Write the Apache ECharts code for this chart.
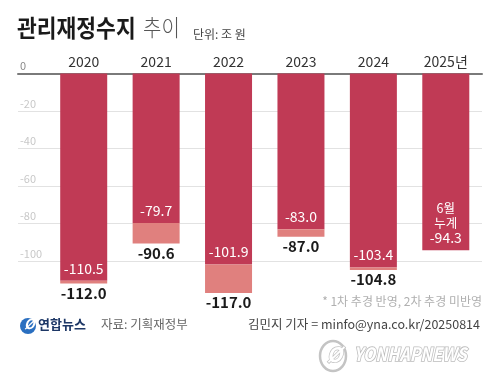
<!DOCTYPE html>
<html>
<head>
<meta charset="utf-8">
<script src="https://cdn.jsdelivr.net/npm/echarts@6/dist/echarts.min.js"></script>
<style>html,body{margin:0;padding:0;background:#fff}#c{width:500px;height:388px}</style>
</head>
<body>
<div id="c"></div>
<script>
const years = ['2020', '2021', '2022', '2023', '2024', '2025년'];
const primaryValues = [-110.5, -79.7, -101.9, -83.0, -103.4, -94.3];
const totalValues = [-112.0, -90.6, -117.0, -87.0, -104.8, null];
const yTicks = [0, -20, -40, -60, -80, -100];

const FONT = '"Noto Sans CJK KR", "Noto Sans", sans-serif';
const DARK = '#c03a55';
const LIGHT = '#e0807e';

const extraValues = totalValues.map((t, i) => t == null ? null : +(t - primaryValues[i]).toFixed(1));

const chart = echarts.init(document.getElementById('c'), null, {renderer: 'canvas'});
const gridPos = {top: 73.5, bottom: 89.5};

chart.setOption({
  animation: false,
  textStyle: {fontFamily: FONT},
  grid: [
    {left: 18, right: 18, top: gridPos.top, bottom: gridPos.bottom},
    {left: 47.5, right: 18, top: gridPos.top, bottom: gridPos.bottom}
  ],
  xAxis: [
    {gridIndex: 0, type: 'value', position: 'top', min: 0, max: 1, show: true,
     axisLine: {show: true, onZero: false, lineStyle: {color: '#7a7a7a', width: 2}},
     axisTick: {show: false}, axisLabel: {show: false}, splitLine: {show: false}},
    {gridIndex: 1, type: 'category', position: 'top', data: years,
     axisLine: {show: false}, axisTick: {show: false},
     axisLabel: {color: '#333', fontSize: 14, margin: 5, fontFamily: FONT}}
  ],
  yAxis: [
    {gridIndex: 0, type: 'value', min: -120, max: 0, interval: 20,
     axisLine: {show: false}, axisTick: {show: false},
     splitLine: {show: true, showMinLine: false, showMaxLine: false, lineStyle: {color: '#e2e2e2', width: 1}},
     axisLabel: {inside: true, margin: 2, verticalAlign: 'bottom', padding: [0, 0, 2, 0],
       showMinLabel: false, fontSize: 11, fontFamily: FONT,
       formatter: v => yTicks.includes(v) ? String(v) : '',
       color: v => (+v === 0 ? '#8a8a8a' : '#c8c8c8')}},
    {gridIndex: 1, type: 'value', min: -120, max: 0, interval: 20, show: false,
     splitLine: {show: false}}
  ],
  series: [
    {type: 'bar', xAxisIndex: 1, yAxisIndex: 1, stack: 's', barWidth: 47,
     data: primaryValues,
     itemStyle: {color: DARK},
     label: {show: true, position: 'insideBottom', distance: 5, color: '#fff', fontSize: 14,
       fontFamily: FONT, lineHeight: 15,
       formatter: p => p.dataIndex === 5 ? '{s|6월}\n{s|누계}\n' + p.value.toFixed(1) : p.value.toFixed(1),
       rich: {s: {fontSize: 12.5, color: '#fff', lineHeight: 14.5, fontFamily: FONT}}}},
    {type: 'bar', xAxisIndex: 1, yAxisIndex: 1, stack: 's', barWidth: 47,
     data: extraValues,
     itemStyle: {color: LIGHT},
     label: {show: true, position: 'bottom', distance: 2, color: '#1a1a1a', fontSize: 15,
       fontWeight: 'bold', fontFamily: FONT,
       formatter: p => totalValues[p.dataIndex] == null ? '' : totalValues[p.dataIndex].toFixed(1)}}
  ],
  graphic: [
    {type: 'text', x: 17, y: 16, scaleY: 1.12, style: {text: '관리재정수지', font: 'bold 21.5px ' + FONT, fill: '#1a1a1a'}},
    {type: 'text', x: 143, y: 16, scaleY: 1.12, style: {text: '추이', font: '300 20px ' + FONT, fill: '#555'}},
    {type: 'text', left: 193, top: 28, style: {text: '단위: 조 원', font: '12px ' + FONT, fill: '#444'}},
    {type: 'text', right: 18, top: 295, style: {text: '* 1차 추경 반영, 2차 추경 미반영', font: '12px ' + FONT, fill: '#b0b0b0'}},
    {type: 'circle', shape: {cx: 28, cy: 326, r: 8}, style: {fill: '#2a6fc0'}},
    {type: 'text', left: 24, top: 317, style: {text: 'Ø', font: 'italic bold 14px ' + FONT, fill: '#fff'}},
    {type: 'text', left: 38, top: 318, style: {text: '연합뉴스', font: 'bold 13px ' + FONT, fill: '#1d3766'}},
    {type: 'text', left: 101, top: 318, style: {text: '자료: 기획재정부', font: '12.5px ' + FONT, fill: '#666'}},
    {type: 'text', right: 20, top: 318, style: {text: '김민지 기자 = minfo@yna.co.kr/20250814', font: '12.5px ' + FONT, fill: '#444'}},
    {type: 'ellipse', shape: {cx: 333, cy: 356, rx: 13, ry: 15}, style: {fill: '#fff', stroke: '#c4c4c4', lineWidth: 2.5}},
    {type: 'text', left: 326, top: 344, style: {text: 'Ø', font: 'italic bold 20px ' + FONT, fill: '#fff', stroke: '#c4c4c4', lineWidth: 1.5}},
    {type: 'text', x: 354, y: 345, scaleY: 1.15, style: {text: 'YONHAPNEWS', font: 'italic bold 16px ' + FONT, fill: '#fff', stroke: '#bcbcbc', lineWidth: 1.5}}
  ]
});
</script>
</body>
</html>
